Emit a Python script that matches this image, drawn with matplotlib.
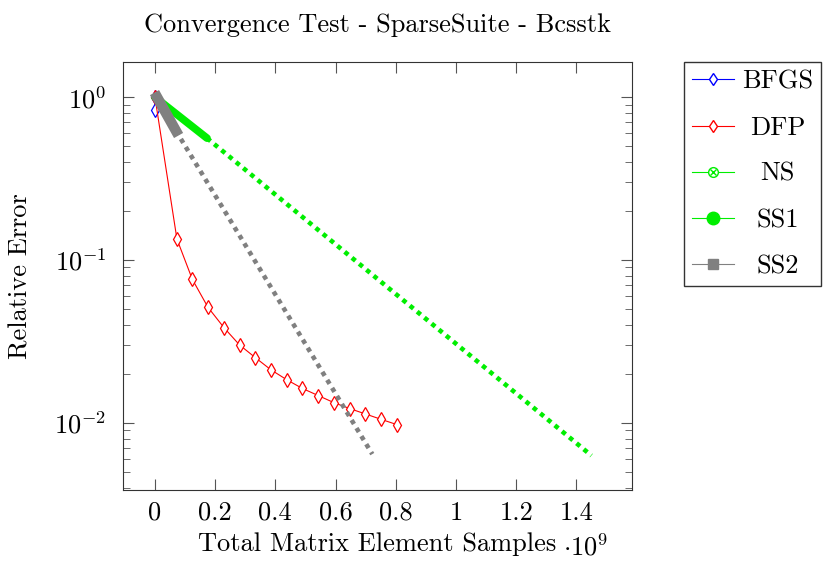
import matplotlib.pyplot as plt
from matplotlib.lines import Line2D
from matplotlib.legend_handler import HandlerTuple
from matplotlib.ticker import FuncFormatter, LogLocator
from matplotlib.transforms import Affine2D

plt.rcParams['font.family'] = 'serif'
plt.rcParams['font.serif'] = ['cmr10']
plt.rcParams['mathtext.fontset'] = 'cm'
plt.rcParams['axes.formatter.use_mathtext'] = True
plt.rcParams['font.size'] = 19

# x in units of 10^9 matrix element samples
bfgs_x = [0.0, 0.001]
bfgs_y = [1.0, 0.83]

dfp_x = [0.0, 0.073, 0.124, 0.176, 0.230, 0.281, 0.333, 0.385, 0.438,
         0.489, 0.543, 0.595, 0.647, 0.699, 0.751, 0.803]
dfp_y = [1.0, 0.1345, 0.0762, 0.0513, 0.0383, 0.0301, 0.0252, 0.0212, 0.0184,
         0.0163, 0.0147, 0.0133, 0.01224, 0.01135, 0.01052, 0.00977]

# first segment: dense samples, second segment: sparse samples
ss1_x = [0.0, 0.173, 1.45]
ss1_y = [1.0, 0.56, 0.0063]

ss2_x = [0.007, 0.070, 0.722]
ss2_y = [1.0, 0.62, 0.00643]

fig = plt.figure(figsize=(8.23, 5.65), dpi=100)
ax = fig.add_axes([0.1495, 0.133, 0.6185, 0.757])

ax.plot(bfgs_x, bfgs_y, color='blue', lw=0.8, marker='d', mfc='white', ms=7, mew=0.9)
ax.plot(dfp_x, dfp_y, color='red', lw=0.8, marker='d', mfc='white', ms=7, mew=0.9)

ax.plot(ss1_x[:2], ss1_y[:2], color='#00ee00', lw=5.5, solid_capstyle='round')
ax.plot(ss1_x[1:], ss1_y[1:], color='#00ee00', lw=3.3, linestyle=(0, (1, 1.05)),
        dash_capstyle='butt')

ax.plot(ss2_x[:2], ss2_y[:2], color='gray', lw=7.5, solid_capstyle='projecting')
ax.plot(ss2_x[1:], ss2_y[1:], color='gray', lw=3.3, linestyle=(0, (1, 1.05)),
        dash_capstyle='butt')

ax.set_yscale('log')
ax.set_xlim(-0.106, 1.585)
ax.set_ylim(0.00388, 1.64)
ax.set_xticks([0, 0.2, 0.4, 0.6, 0.8, 1.0, 1.2, 1.4])
ax.xaxis.set_major_formatter(FuncFormatter(lambda v, p: '%g' % round(v, 2)))
ax.yaxis.set_major_locator(LogLocator(base=10))
ax.yaxis.set_minor_locator(LogLocator(base=10, subs=range(2, 10)))
ax.tick_params(which='both', direction='in', top=True, right=True, color='#555555')
ax.tick_params(which='major', length=8)
ax.tick_params(which='minor', length=5)
ax.tick_params(axis='x', which='major', pad=8)
ax.tick_params(axis='y', which='major', pad=12)
ax.tick_params(axis='x', which='minor', bottom=False, top=False)
for s in ax.spines.values():
    s.set_color('#333333')

ax.set_title('Convergence Test - SparseSuite - Bcsstk', pad=22, fontsize=19)
ax.set_xlabel('Total Matrix Element Samples')
ax.set_ylabel('Relative Error')
ax.xaxis.set_label_coords(0.5, -0.098)
ax.yaxis.set_label_coords(-0.177, 0.5)
ax.text(0.864, -0.154, r'$\cdot 10^{9}$', transform=ax.transAxes, va='baseline')

handles = [
    Line2D([], [], color='blue', lw=0.8, marker='d', mfc='white', ms=6),
    Line2D([], [], color='red', lw=0.8, marker='d', mfc='white', ms=6),
    (Line2D([], [], color='#00ee00', lw=0.8, marker='o', mfc='white', ms=7),
     Line2D([], [], color='#00ee00', lw=0, marker='x', ms=5)),
    Line2D([], [], color='#00ee00', lw=0.8, marker='o', ms=9),
    Line2D([], [], color='gray', lw=0.8, marker='s', ms=7),
]
labels = ['BFGS', 'DFP', 'NS', 'SS1', 'SS2']
leg = fig.legend(handles, labels, loc='upper left', bbox_to_anchor=(684 / 823, 1 - 62 / 565),
                 handler_map={tuple: HandlerTuple(ndivide=1)}, fancybox=False,
                 edgecolor='#333333', framealpha=1, handlelength=1.6, labelspacing=0.85,
                 borderpad=0.3, handletextpad=0.3, borderaxespad=0)
leg.get_frame().set_linewidth(1.0)

# center the legend labels in their column
fig.canvas.draw()
renderer = fig.canvas.get_renderer()
widths = [t.get_window_extent(renderer).width for t in leg.get_texts()]
wmax = max(widths)
for t, w in zip(leg.get_texts(), widths):
    t.set_transform(t.get_transform() + Affine2D().translate((wmax - w) / 2, 0))

plt.savefig('out.png', dpi=100)
